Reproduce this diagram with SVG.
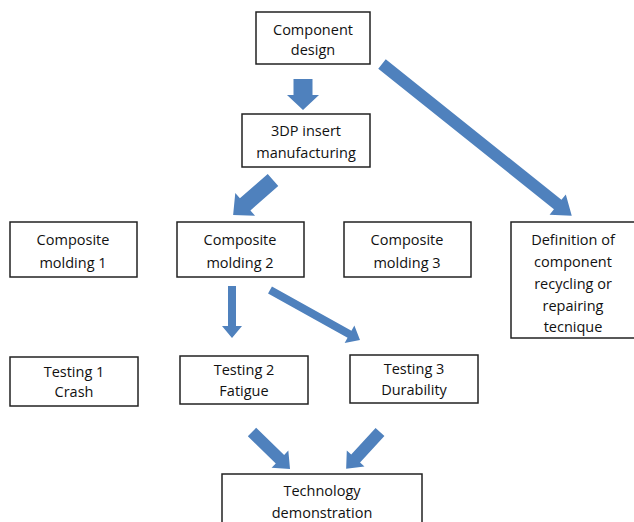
<svg xmlns="http://www.w3.org/2000/svg" width="634" height="522" viewBox="0 0 634 522">
<style>
.box{fill:#fff;stroke:#222;stroke-width:1.5}
.t{font-family:"Open Sans","Liberation Sans",sans-serif;font-size:14.5px;fill:#111;text-anchor:middle}
.a{fill:#4F81BD}
</style>
<rect width="634" height="522" fill="#fff"/>
<g id="connectors">
<polygon class="a" transform="translate(303,79) rotate(90)" points="0,-9.5 16,-9.5 16,-16 31,0 16,16 16,9.5 0,9.5"/>
<polygon class="a" transform="translate(382,64) rotate(38.66)" points="0,-6 225,-6 225,-13 243,0 225,13 225,6 0,6"/>
<polygon class="a" transform="translate(273,180) rotate(138.8)" points="0,-8 37,-8 37,-15 53,0 37,15 37,8 0,8"/>
<polygon class="a" transform="translate(232,286) rotate(90)" points="0,-4 40,-4 40,-10 52,0 40,10 40,4 0,4"/>
<polygon class="a" transform="translate(270,290) rotate(29.1)" points="0,-4 91,-4 91,-10 103,0 91,10 91,4 0,4"/>
<polygon class="a" transform="translate(252,432) rotate(44.2)" points="0,-6 39,-6 39,-12 53,0 39,12 39,6 0,6"/>
<polygon class="a" transform="translate(380,432) rotate(132.6)" points="0,-6 36,-6 36,-12 50,0 36,12 36,6 0,6"/>
</g>
<g id="component-design"><rect class="box" x="256" y="12" width="114" height="52"/><text class="t" x="313" y="35">Component</text><text class="t" x="313" y="55">design</text></g>
<g id="insert-manufacturing"><rect class="box" x="242" y="114" width="128" height="53"/><text class="t" x="306" y="136">3DP insert</text><text class="t" x="306" y="158">manufacturing</text></g>
<g id="molding1"><rect class="box" x="10" y="222" width="127" height="55"/><text class="t" x="73" y="245">Composite</text><text class="t" x="73" y="268">molding 1</text></g>
<g id="molding2"><rect class="box" x="177" y="222" width="127" height="55"/><text class="t" x="240" y="245">Composite</text><text class="t" x="240" y="268">molding 2</text></g>
<g id="molding3"><rect class="box" x="344" y="222" width="127" height="55"/><text class="t" x="407" y="245">Composite</text><text class="t" x="407" y="268">molding 3</text></g>
<g id="definition"><rect class="box" x="511" y="222" width="130" height="116"/><text class="t" x="573" y="245">Definition of</text><text class="t" x="573" y="267">component</text><text class="t" x="573" y="289">recycling or</text><text class="t" x="573" y="311">repairing</text><text class="t" x="573" y="332">tecnique</text></g>
<g id="testing1"><rect class="box" x="10" y="357" width="128" height="49"/><text class="t" x="74" y="377">Testing 1</text><text class="t" x="74" y="397">Crash</text></g>
<g id="testing2"><rect class="box" x="180" y="356" width="128" height="48"/><text class="t" x="244" y="375">Testing 2</text><text class="t" x="244" y="396">Fatigue</text></g>
<g id="testing3"><rect class="box" x="350" y="355" width="128" height="48"/><text class="t" x="414" y="374">Testing 3</text><text class="t" x="414" y="395">Durability</text></g>
<g id="technology"><rect class="box" x="222" y="474" width="200" height="60"/><text class="t" x="322" y="496">Technology</text><text class="t" x="322" y="518">demonstration</text></g>
</svg>
